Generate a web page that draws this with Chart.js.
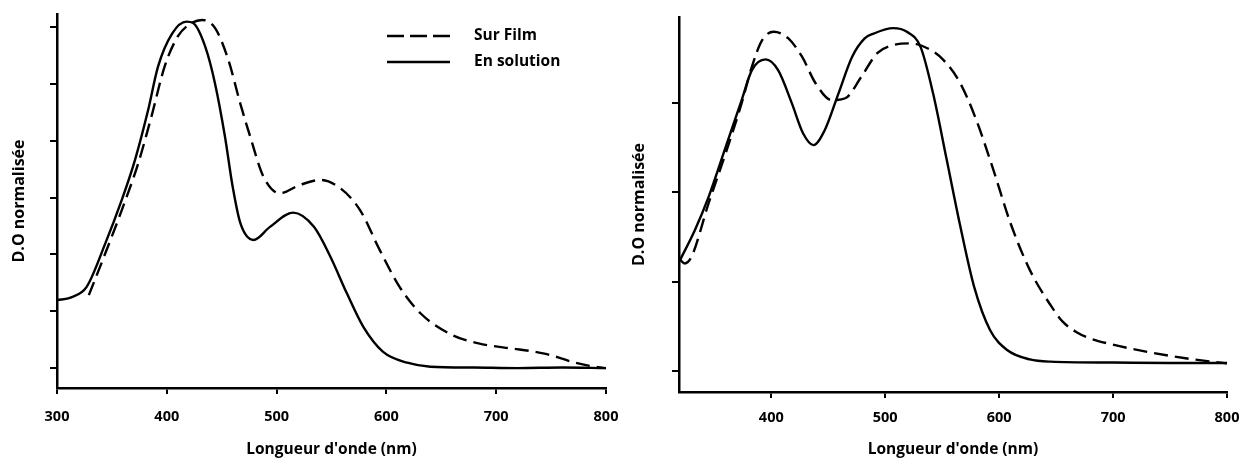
<!DOCTYPE html>
<html lang="fr">
<head>
<meta charset="utf-8">
<title>D.O normalisée</title>
<script src="https://cdn.jsdelivr.net/npm/chart.js@4/dist/chart.umd.min.js"></script>
<style>
    html, body { margin: 0; padding: 0; background: #fff; }
    #page { position: relative; width: 1242px; height: 459px; }
    .panneau { position: absolute; top: 0; height: 459px; }
    #panneauGauche { left: 0; width: 620px; }
    #panneauDroit { left: 620px; width: 622px; }
</style>
</head>
<body>
<div id="page">
    <div class="panneau" id="panneauGauche"><canvas id="graphiqueGauche"></canvas></div>
    <div class="panneau" id="panneauDroit"><canvas id="graphiqueDroit"></canvas></div>
</div>

<script>
// =============================
// DONNÉES
// =============================

const LABEL_FILM = 'Sur Film';
const LABEL_SOLUTION = 'En solution';

// Graphique de gauche
const gaucheSolutionX = [300, 313, 327, 344, 359, 371, 383, 392, 405, 418, 424, 435, 444, 453, 460, 467, 479, 494, 515, 534, 549, 564, 579, 597, 619, 640, 680, 720, 760, 800];
const gaucheSolutionY = [0.239, 0.249, 0.286, 0.439, 0.592, 0.732, 0.908, 1.061, 1.178, 1.219, 1.214, 1.131, 1.0, 0.814, 0.638, 0.51, 0.451, 0.497, 0.547, 0.497, 0.392, 0.263, 0.145, 0.057, 0.019, 0.005, 0.002, 0.0, 0.002, 0.0];

const gaucheFilmX = [329, 344, 359, 374, 386, 398, 410, 420, 432, 444, 456, 467, 476, 488, 503, 521, 540, 558, 576, 594, 612, 631, 660, 684, 714, 730, 744, 757, 769, 785, 800];
const gaucheFilmY = [0.257, 0.404, 0.556, 0.721, 0.885, 1.061, 1.167, 1.208, 1.225, 1.196, 1.085, 0.93, 0.814, 0.674, 0.615, 0.644, 0.662, 0.633, 0.556, 0.415, 0.286, 0.193, 0.116, 0.087, 0.069, 0.061, 0.051, 0.037, 0.022, 0.008, 0.0];

const gaucheTicksX = [300, 400, 500, 600, 700, 800];
const gaucheTicksY = [0, 0.2, 0.4, 0.6, 0.8, 1.0, 1.2];

// Graphique de droite
const droiteSolutionX = [320, 333, 345, 360, 374, 383, 395, 406, 418, 428, 437, 447, 459, 471, 482, 490, 507, 519, 531, 542, 554, 566, 578, 592, 607, 627, 645, 700, 750, 800];
const droiteSolutionY = [0.249, 0.316, 0.390, 0.502, 0.607, 0.674, 0.698, 0.674, 0.600, 0.532, 0.506, 0.540, 0.622, 0.704, 0.745, 0.756, 0.768, 0.760, 0.726, 0.622, 0.473, 0.323, 0.189, 0.092, 0.047, 0.026, 0.021, 0.019, 0.018, 0.018];

const droiteFilmX = [320, 324, 330, 345, 360, 374, 383, 392, 402, 415, 427, 439, 453, 465, 479, 493, 507, 522, 537, 551, 566, 580, 595, 610, 627, 645, 656, 668, 680, 695, 730, 765, 800];
const droiteFilmY = [0.249, 0.241, 0.256, 0.376, 0.488, 0.600, 0.682, 0.741, 0.760, 0.745, 0.704, 0.644, 0.607, 0.611, 0.659, 0.712, 0.730, 0.734, 0.723, 0.697, 0.644, 0.562, 0.450, 0.331, 0.226, 0.148, 0.110, 0.087, 0.073, 0.062, 0.043, 0.028, 0.017];

const droiteTicksX = [400, 500, 600, 700, 800];
const droiteTicksY = [0, 0.2, 0.4, 0.6];


// =============================
// FONCTIONS AUXILIAIRES
// =============================

const POLICE = '"Open Sans", "DejaVu Sans", sans-serif';

function construirePoints(xs, ys) {
    return xs.map((x, i) => ({ x: x, y: ys[i] }));
}

function construireSerie(label, xs, ys, pointille) {
    return {
        label: label,
        data: construirePoints(xs, ys),
        borderColor: '#000',
        borderWidth: 2.4,
        borderDash: pointille ? [14, 7] : [],
        pointRadius: 0,
        fill: false,
        cubicInterpolationMode: 'monotone'
    };
}

// légende dessinée dans la zone du graphique (en haut à droite)
const legendeInterne = {
    id: 'legendeInterne',
    afterDraw(chart, args, opts) {
        if (!opts.afficher) return;

        const ctx = chart.ctx;
        const zone = chart.chartArea;

        ctx.save();
        chart.data.datasets.forEach((serie, i) => {
            const x = zone.right - opts.decalageDroite;
            const y = zone.top + opts.decalageHaut + i * opts.interligne;

            ctx.beginPath();
            ctx.setLineDash(serie.borderDash.length ? [17, 6] : []);
            ctx.lineWidth = serie.borderWidth;
            ctx.strokeStyle = serie.borderColor;
            ctx.moveTo(x, y);
            ctx.lineTo(x + opts.longueur, y);
            ctx.stroke();

            ctx.setLineDash([]);
            ctx.fillStyle = '#000';
            ctx.font = 'bold 15.5px ' + POLICE;
            ctx.textBaseline = 'middle';
            ctx.textAlign = 'left';
            ctx.fillText(serie.label, x + opts.longueur + 24, y);
        });
        ctx.restore();
    }
};

function creerGraphique(idCanvas, series, reglages) {
    const ctx = document.getElementById(idCanvas);

    return new Chart(ctx, {
        type: 'line',
        data: { datasets: series },
        options: {
            responsive: true,
            maintainAspectRatio: false,
            animation: false,
            events: [],
            layout: {
                padding: { top: reglages.hautZone, right: reglages.droiteZone, bottom: 0, left: 0 }
            },
            plugins: {
                legend: { display: false },
                tooltip: { enabled: false },
                legendeInterne: reglages.legende
            },
            scales: {
                x: {
                    type: 'linear',
                    min: reglages.xMin,
                    max: reglages.xMax,
                    afterBuildTicks: axe => { axe.ticks = reglages.ticksX.map(v => ({ value: v })); },
                    afterFit: axe => {
                        axe.height = reglages.hauteurAxeX;
                        axe.paddingLeft = 0;
                        axe.paddingRight = 0;
                    },
                    border: { display: true, color: '#000', width: 2.5 },
                    grid: { drawOnChartArea: false, drawTicks: true, tickLength: 6, color: '#000', lineWidth: 2 },
                    ticks: {
                        color: '#000',
                        padding: reglages.espaceTicksX,
                        maxRotation: 0,
                        font: { family: POLICE, size: 14.5, weight: 'bold' }
                    },
                    title: {
                        display: true,
                        text: "Longueur d'onde (nm)",
                        color: '#000',
                        padding: { top: 0, bottom: 0 },
                        font: { family: POLICE, size: 15.5, weight: 'bold' }
                    }
                },
                y: {
                    type: 'linear',
                    min: reglages.yMin,
                    max: reglages.yMax,
                    afterBuildTicks: axe => { axe.ticks = reglages.ticksY.map(v => ({ value: v })); },
                    afterFit: axe => { axe.width = reglages.largeurAxeY; },
                    border: { display: true, color: '#000', width: 2.5 },
                    grid: { drawOnChartArea: false, drawTicks: true, tickLength: 7, color: '#000', lineWidth: 2 },
                    ticks: { display: false },
                    title: {
                        display: true,
                        text: 'D.O normalisée',
                        color: '#000',
                        padding: { top: 10, bottom: 0 },
                        font: { family: POLICE, size: 16, weight: 'bold' }
                    }
                }
            }
        },
        plugins: [legendeInterne]
    });
}


// =============================
// INITIALISATION
// =============================

document.addEventListener('DOMContentLoaded', () => {
    creerGraphique('graphiqueGauche', [
        construireSerie(LABEL_FILM, gaucheFilmX, gaucheFilmY, true),
        construireSerie(LABEL_SOLUTION, gaucheSolutionX, gaucheSolutionY, false)
    ], {
        xMin: 300, xMax: 800,
        yMin: -0.070, yMax: 1.246,
        ticksX: gaucheTicksX, ticksY: gaucheTicksY,
        hautZone: 14, droiteZone: 14,
        hauteurAxeX: 71, largeurAxeY: 57,
        espaceTicksX: 14,
        legende: { afficher: true, decalageDroite: 219, decalageHaut: 22, interligne: 26, longueur: 63 }
    });

    creerGraphique('graphiqueDroit', [
        construireSerie(LABEL_FILM, droiteFilmX, droiteFilmY, true),
        construireSerie(LABEL_SOLUTION, droiteSolutionX, droiteSolutionY, false)
    ], {
        xMin: 319, xMax: 800,
        yMin: -0.047, yMax: 0.793,
        ticksX: droiteTicksX, ticksY: droiteTicksY,
        hautZone: 17, droiteZone: 15,
        hauteurAxeX: 67, largeurAxeY: 59,
        espaceTicksX: 11,
        legende: { afficher: false }
    });
});
</script>
</body>
</html>
